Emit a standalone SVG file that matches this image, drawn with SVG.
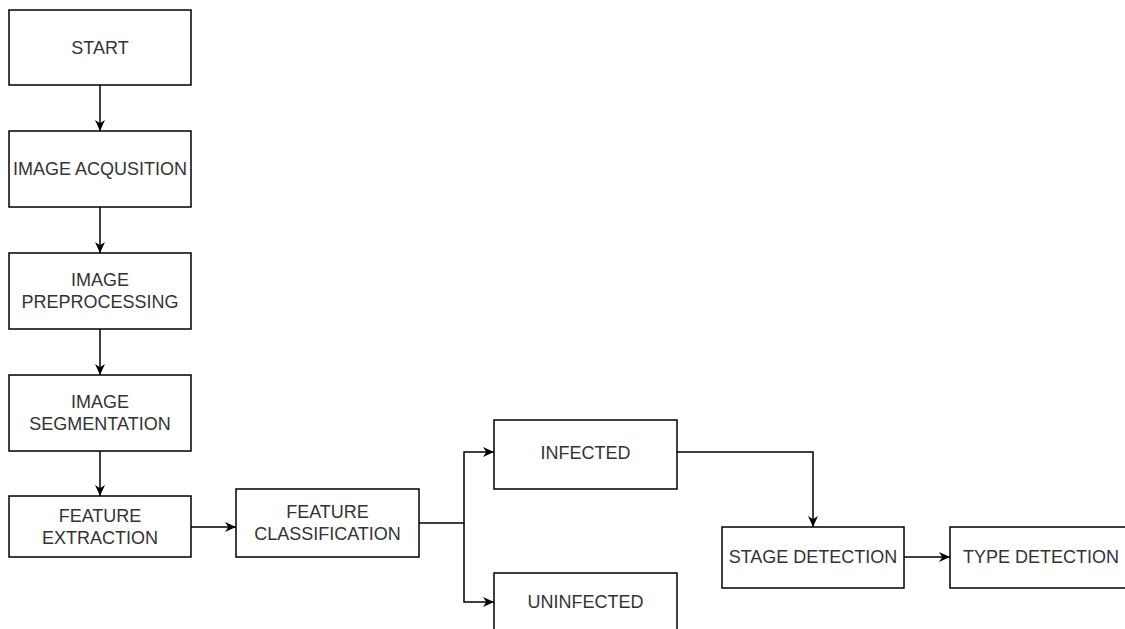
<svg xmlns="http://www.w3.org/2000/svg" width="1125" height="629" viewBox="0 0 1125 629">
<style>
.box{fill:#fff;stroke:#000;stroke-width:1.5}
.lbl{font-family:"Liberation Sans",Arial,sans-serif;font-size:18px;fill:#333;text-anchor:middle;dominant-baseline:central}
.edge{fill:none;stroke:#000;stroke-width:1.5}
</style>
<defs>
<marker id="arr" viewBox="0 0 10 10" refX="10" refY="5" markerWidth="11" markerHeight="11" markerUnits="userSpaceOnUse" orient="auto">
<path d="M0,0.5 L10,5 L0,9.5 L3,5 Z" fill="#000"/>
</marker>
</defs>
<rect width="1125" height="629" fill="#fff"/>
<g id="connectors">
<path class="edge" d="M100,85 V131" marker-end="url(#arr)"/>
<path class="edge" d="M100,207 V253" marker-end="url(#arr)"/>
<path class="edge" d="M100,329 V375" marker-end="url(#arr)"/>
<path class="edge" d="M100,451 V496" marker-end="url(#arr)"/>
<path class="edge" d="M191,527 H236" marker-end="url(#arr)"/>
<path class="edge" d="M419,523 H464 V452 H494" marker-end="url(#arr)"/>
<path class="edge" d="M464,523 V602 H494" marker-end="url(#arr)"/>
<path class="edge" d="M677,452 H813 V527" marker-end="url(#arr)"/>
<path class="edge" d="M904,557 H950" marker-end="url(#arr)"/>
</g>
<g id="start"><rect class="box" x="9" y="10" width="182" height="75"/><text class="lbl" x="100" y="47.5">START</text></g>
<g id="acquisition"><rect class="box" x="9" y="131" width="182" height="76"/><text class="lbl" x="100" y="169">IMAGE ACQUSITION</text></g>
<g id="preprocessing"><rect class="box" x="9" y="253" width="182" height="76"/><text class="lbl" x="100" y="280">IMAGE</text><text class="lbl" x="100" y="302">PREPROCESSING</text></g>
<g id="segmentation"><rect class="box" x="9" y="375" width="182" height="76"/><text class="lbl" x="100" y="402">IMAGE</text><text class="lbl" x="100" y="424">SEGMENTATION</text></g>
<g id="extraction"><rect class="box" x="9" y="496" width="182" height="61"/><text class="lbl" x="100" y="515.5">FEATURE</text><text class="lbl" x="100" y="537.5">EXTRACTION</text></g>
<g id="classification"><rect class="box" x="236" y="489" width="183" height="68"/><text class="lbl" x="327.5" y="512">FEATURE</text><text class="lbl" x="327.5" y="534">CLASSIFICATION</text></g>
<g id="infected"><rect class="box" x="494" y="420" width="183" height="69"/><text class="lbl" x="585.5" y="453">INFECTED</text></g>
<g id="uninfected"><rect class="box" x="494" y="573" width="183" height="69"/><text class="lbl" x="585.5" y="602">UNINFECTED</text></g>
<g id="stage"><rect class="box" x="722" y="527" width="182" height="61"/><text class="lbl" x="813" y="557">STAGE DETECTION</text></g>
<g id="type"><rect class="box" x="950" y="527" width="182" height="61"/><text class="lbl" x="1041" y="557">TYPE DETECTION</text></g>
</svg>
